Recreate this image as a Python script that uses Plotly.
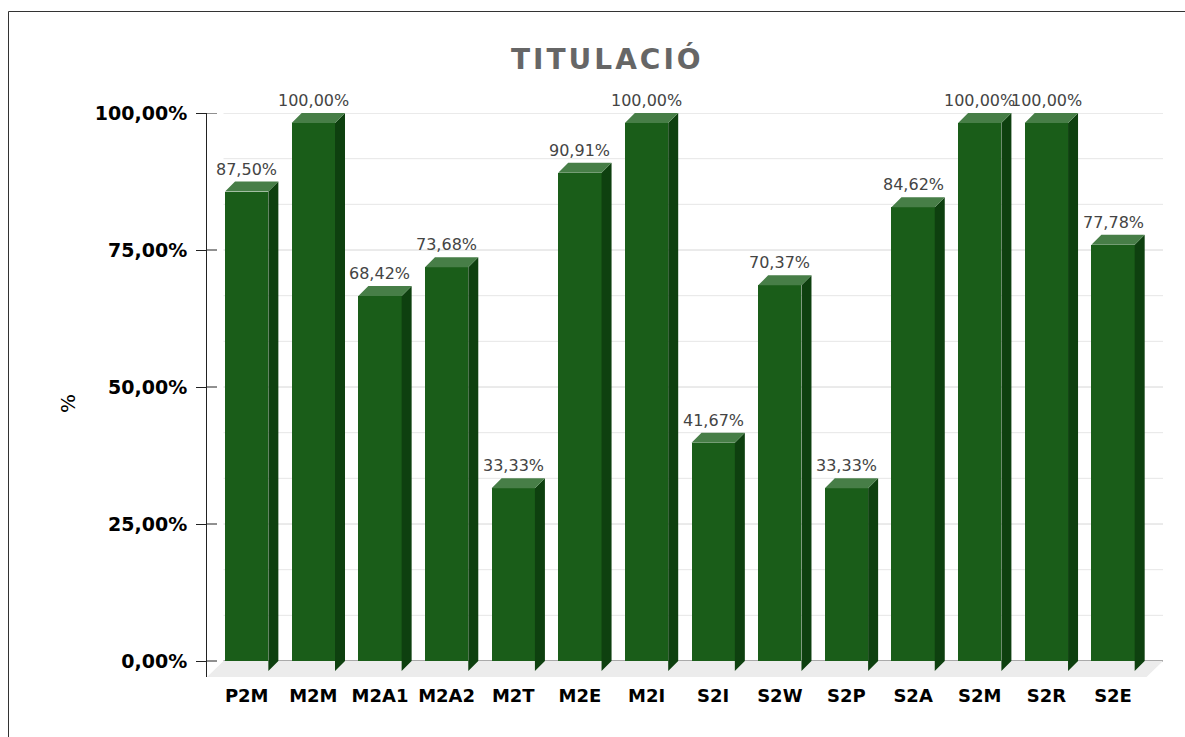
import plotly.graph_objects as go

categories = ["P2M", "M2M", "M2A1", "M2A2", "M2T", "M2E", "M2I",
              "S2I", "S2W", "S2P", "S2A", "S2M", "S2R", "S2E"]
values = [87.50, 100.00, 68.42, 73.68, 33.33, 90.91, 100.00,
          41.67, 70.37, 33.33, 84.62, 100.00, 100.00, 77.78]
y_tick_vals = [0, 25, 50, 75, 100]
y_tick_text = ["0,00%", "25,00%", "50,00%", "75,00%", "100,00%"]
title_text = "TITULACIÓ"
y_title = "%"

# geometry (pixel-based layout)
W, H = 1185, 737
L_PX, R_PX, T_PX, B_PX = 207, 1163, 113, 677
X_PX0, X_STEP = 246.7, 66.64          # first category centre, spacing (px)
Y0_PX, Y_SCALE = 661, 5.48             # px of value 0, px per unit
xr = [(L_PX - X_PX0) / X_STEP, (R_PX - X_PX0) / X_STEP]
yr = [-(B_PX - Y0_PX) / Y_SCALE, (Y0_PX - T_PX) / Y_SCALE]
DX = 10 / X_STEP                        # bar depth in x units
DY = 10 / Y_SCALE                       # bar depth in y units
FDX = 16.5 / X_STEP                     # floor depth
HALF = 0.325

FRONT = "#1a5d19"
SIDE = "#0e400f"
TOP = "#477e47"

xs = list(range(len(categories)))

fig = go.Figure()

# floor
fig.add_trace(go.Scatter(
    x=[xr[0], xr[1] - FDX, xr[1], xr[0] + FDX, xr[0]],
    y=[yr[0], yr[0], 0, 0, yr[0]],
    fill="toself", fillcolor="#ececec", mode="lines",
    line=dict(width=0), hoverinfo="skip", showlegend=False))

# front faces
fig.add_trace(go.Bar(
    x=xs, y=values, base=[-DY] * len(values), width=2 * HALF,
    marker=dict(color=FRONT, line=dict(width=0)),
    hoverinfo="skip", showlegend=False))

# side faces & top faces
sx, sy, tx, ty = [], [], [], []
for i, v in zip(xs, values):
    r = i + HALF
    l = i - HALF
    sx += [r, r + DX, r + DX, r, r, None]
    sy += [-DY, 0, v, v - DY, -DY, None]
    tx += [l, l + DX, r + DX, r, l, None]
    ty += [v - DY, v, v, v - DY, v - DY, None]
fig.add_trace(go.Scatter(x=sx, y=sy, fill="toself", fillcolor=SIDE,
                         mode="lines", line=dict(width=0),
                         hoverinfo="skip", showlegend=False))
fig.add_trace(go.Scatter(x=tx, y=ty, fill="toself", fillcolor=TOP,
                         mode="lines", line=dict(width=0),
                         hoverinfo="skip", showlegend=False))

shapes = []
# back-wall gridlines
gx0 = xr[0] + FDX
for k in range(1, 13):
    gv = k * 25 / 3
    major = (k % 3 == 0)
    shapes.append(dict(type="line", xref="x", yref="y", x0=gx0, x1=xr[1],
                       y0=gv, y1=gv, layer="below",
                       line=dict(color="#d6d6d6" if major else "#e6e6e6", width=1)))
shapes.append(dict(type="line", xref="x", yref="y", x0=gx0, x1=xr[1],
                   y0=0, y1=0, layer="below", line=dict(color="#555555", width=1)))
# inner part of y ticks
for tv in y_tick_vals:
    shapes.append(dict(type="line", xref="paper", yref="y", x0=0, x1=10 / (R_PX - L_PX),
                       y0=tv, y1=tv, layer="above", line=dict(color="#222222", width=1)))
# chart border
shapes.append(dict(type="rect", xref="paper", yref="paper",
                   x0=(8.5 - L_PX) / (R_PX - L_PX), x1=(W + 10 - L_PX) / (R_PX - L_PX),
                   y0=(B_PX - (H + 10)) / (B_PX - T_PX), y1=(B_PX - 11.5) / (B_PX - T_PX),
                   line=dict(color="#333333", width=1), layer="below"))

annotations = []
for i, v in zip(xs, values):
    # anchored at the front top edge (always inside the axis range), shifted up by the depth
    annotations.append(dict(
        x=i, y=v - DY, xref="x", yref="y", text=f"{v:.2f}%".replace(".", ","),
        showarrow=False, yanchor="bottom", yshift=11,
        font=dict(family="DejaVu Sans", size=16, color="#444444")))
annotations.append(dict(
    x=(54 - L_PX) / (R_PX - L_PX), y=(B_PX - 404) / (B_PX - T_PX),
    xref="paper", yref="paper", text=y_title, textangle=-90, showarrow=False,
    font=dict(family="DejaVu Sans", size=20, color="#000000")))
annotations.append(dict(
    x=(607 - L_PX) / (R_PX - L_PX), y=(B_PX - 59) / (B_PX - T_PX),
    xref="paper", yref="paper", showarrow=False, yanchor="middle",
    text=f'<span style="letter-spacing:3px">{title_text}</span>',
    font=dict(family="DejaVu Sans", size=28, color="#666666", weight="bold")))

fig.update_layout(
    width=W, height=H,
    margin=dict(l=L_PX, r=W - R_PX, t=T_PX, b=H - B_PX, pad=0),
    paper_bgcolor="white", plot_bgcolor="rgba(0,0,0,0)",
    shapes=shapes, annotations=annotations, bargap=0,
    xaxis=dict(range=xr, tickvals=xs, ticktext=categories, showgrid=False,
               zeroline=False, showline=False, ticks="",
               tickfont=dict(family="DejaVu Sans", size=18, color="#000000", weight="bold"),
               ticklabelstandoff=6, fixedrange=True),
    yaxis=dict(range=yr, tickvals=y_tick_vals, ticktext=y_tick_text, showgrid=False,
               zeroline=False, showline=True, linecolor="#222222", linewidth=1,
               ticks="outside", ticklen=10, tickcolor="#222222", tickwidth=1,
               ticklabelstandoff=5,
               tickfont=dict(family="DejaVu Sans", size=19, color="#000000", weight="bold"),
               fixedrange=True),
)

fig.write_html("out.html", config={"displayModeBar": False},
               post_script="document.body.style.margin='0';document.body.style.overflow='hidden';")
